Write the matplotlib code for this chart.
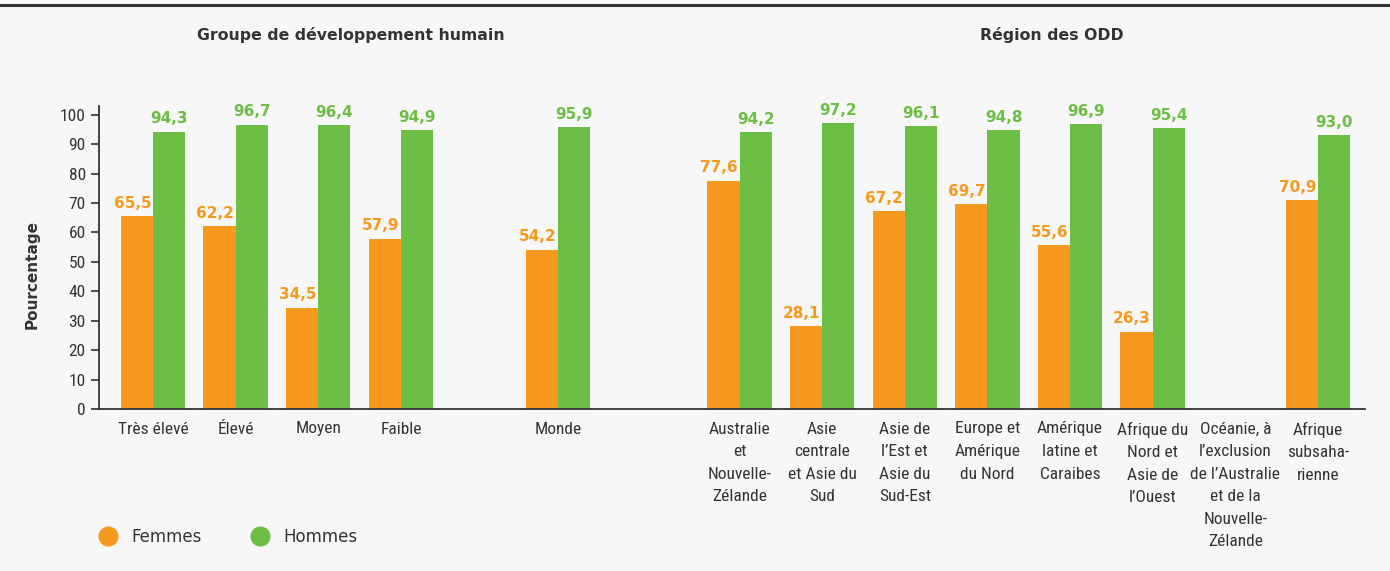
import numpy as np
import matplotlib.pyplot as plt
from matplotlib.lines import Line2D

categories = [
    "Très élevé", "Élevé", "Moyen", "Faible", "Monde",
    "Australie\net\nNouvelle-\nZélande",
    "Asie\ncentrale\net Asie du\nSud",
    "Asie de\nl’Est et\nAsie du\nSud-Est",
    "Europe et\nAmérique\ndu Nord",
    "Amérique\nlatine et\nCaraibes",
    "Afrique du\nNord et\nAsie de\nl’Ouest",
    "Océanie, à\nl’exclusion\nde l’Australie\net de la\nNouvelle-\nZélande",
    "Afrique\nsubsaha-\nrienne",
]
femmes = [65.5, 62.2, 34.5, 57.9, 54.2, 77.6, 28.1, 67.2, 69.7, 55.6, 26.3, np.nan, 70.9]
hommes = [94.3, 96.7, 96.4, 94.9, 95.9, 94.2, 97.2, 96.1, 94.8, 96.9, 95.4, np.nan, 93.0]

# layout: group centres (gaps around "Monde")
xpos = np.array([0, 1, 2, 3, 4.9, 7.1, 8.1, 9.1, 10.1, 11.1, 12.1, 13.1, 14.1])
w = 0.39

ORANGE = "#F7991F"
GREEN = "#6DBE45"
DARK = "#333333"
BG = "#F7F7F7"
cond = ["Roboto Condensed", "DejaVu Sans"]

fig = plt.figure(figsize=(13.9, 5.71), dpi=100)
fig.patch.set_facecolor(BG)
ax = fig.add_axes([99 / 1390, 1 - 409 / 571, (1365 - 99) / 1390, (409 - 106) / 571])
ax.set_facecolor(BG)

ax.bar(xpos - w / 2, femmes, w, color=ORANGE)
ax.bar(xpos + w / 2, hommes, w, color=GREEN)

for x, f, h in zip(xpos, femmes, hommes):
    if not np.isnan(f):
        ax.text(x - w / 2 - 0.055, f + 1.8, f"{f:.1f}".replace(".", ","), ha="center", va="bottom",
                color=ORANGE, fontsize=11, fontweight="bold")
    if not np.isnan(h):
        ax.text(x + w / 2, h + 1.8, f"{h:.1f}".replace(".", ","), ha="center", va="bottom",
                color=GREEN, fontsize=11, fontweight="bold")

ax.set_xlim(-0.654, 14.67)
ax.set_ylim(0, 103)
ax.set_yticks(range(0, 101, 10))
ax.set_xticks(xpos)
ax.set_xticklabels(categories, family=cond, fontsize=12.5, color=DARK, linespacing=1.63)
for lab in ax.get_yticklabels():
    lab.set_family(cond)
ax.tick_params(axis="y", labelsize=12.5, colors=DARK, length=6, width=1.2, direction="out")
ax.tick_params(axis="x", length=0, pad=9)
for s in ["top", "right"]:
    ax.spines[s].set_visible(False)
for s in ["left", "bottom"]:
    ax.spines[s].set_color(DARK)
    ax.spines[s].set_linewidth(1.3)

fig.text(32 / 1390, 1 - 274 / 571, "Pourcentage", rotation=90, ha="center", va="center",
         fontsize=11, fontweight="bold", color=DARK)
fig.text(351 / 1390, 1 - 35 / 571, "Groupe de développement humain", ha="center", va="center",
         fontsize=11.3, fontweight="bold", color=DARK)
fig.text(1052 / 1390, 1 - 35 / 571, "Région des ODD", ha="center", va="center",
         fontsize=11.3, fontweight="bold", color=DARK)

# top rule
fig.add_artist(Line2D([0, 1], [1 - 5 / 571, 1 - 5 / 571], color=DARK, lw=2.2,
                      transform=fig.transFigure))

handles = [
    Line2D([], [], marker="o", ls="none", markersize=13.5, color=ORANGE, label="Femmes"),
    Line2D([], [], marker="o", ls="none", markersize=13.5, color=GREEN, label="Hommes"),
]
leg = fig.legend(handles=handles, loc="center left", bbox_to_anchor=(100 / 1390, 1 - 537 / 571),
                 ncol=2, frameon=False, fontsize=12, handlelength=1, handletextpad=0.9,
                 columnspacing=3.0, borderpad=0, borderaxespad=0)
for t in leg.get_texts():
    t.set_color(DARK)

fig.savefig("out.png", dpi=100, facecolor=BG)
